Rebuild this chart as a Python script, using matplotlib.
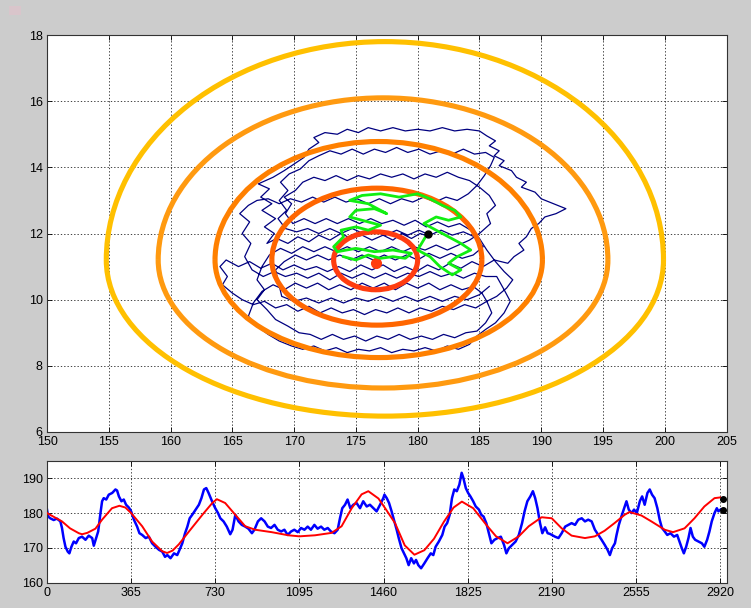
import matplotlib
matplotlib.use("Agg")
import matplotlib.pyplot as plt
from matplotlib.patches import Arc, Rectangle
import numpy as np

plt.rcParams['font.family'] = ['Liberation Sans', 'DejaVu Sans']

# ---------------- top panel data ----------------
x_ticks_top = [150, 155, 160, 165, 170, 175, 180, 185, 190, 195, 200, 205]
y_ticks_top = [6, 8, 10, 12, 14, 16, 18]

# contour rings (inner -> outer): centre x, y at widest point, width, upper and lower half-heights
ring_cx = [176.6, 176.7, 176.85, 177.2, 177.35]
ring_cy = [11.2, 11.2, 11.2, 11.2, 11.2]
ring_w = [6.8, 17.0, 26.5, 36.4, 45.1]
ring_up = [0.85, 2.17, 3.58, 4.9, 6.6]
ring_dn = [0.9, 1.97, 2.95, 3.87, 4.72]
ring_colors = ['#ff3c10', '#ff6600', '#ff8000', '#ff9a10', '#ffc000']

traj_x = [181.0,180.2,179.5,178.7,178.0,177.2,176.3,175.5,174.6,173.8,172.9,172.0,171.2,170.3,169.5,168.6,167.8,
          168.4,167.6,168.5,167.4,168.2,167.3,168.0,167.1,168.3,169.2,170.0,170.8,171.2,172.0,171.6,172.5,
          173.5,174.3,175.2,176.0,177.0,178.0,179.0,180.0,181.0,182.0,183.0,184.0,185.0,185.6,
          186.3,185.8,186.6,186.2,187.0,186.6,187.6,188.0,188.8,188.4,189.5,190.0,191.0,192.0,191.2,190.3,189.8,189.2,188.8,188.2,188.6,187.8,187.3,
          186.2,185.3,184.4,183.5,182.6,181.7,180.8,179.9,179.0,178.1,177.2,176.3,175.4,174.5,173.6,172.7,171.8,170.9,170.0,169.1,168.2,167.3,166.4,165.5,164.5,164.0,
          164.6,164.2,165.0,165.8,166.7,167.6,168.5,169.4,170.3,171.2,172.1,173.0,173.9,174.8,175.7,176.6,177.5,178.4,179.3,180.2,181.1,182.0,182.9,183.8,184.7,185.6,186.4,187.2,187.7,187.0,186.3,185.6,
          185.0,184.3,183.4,182.5,181.6,180.7,179.8,178.9,178.0,177.1,176.2,175.3,174.4,173.5,172.6,171.7,170.8,169.9,169.3,169.8,169.2,170.1,170.7,
          171.6,172.5,173.4,174.3,175.2,176.1,177.0,177.9,178.8,179.7,180.6,181.5,182.4,183.3,184.2,185.0,185.8,186.3,185.6,185.9,185.0,184.2,
          183.3,182.4,181.5,180.6,179.7,178.8,177.9,177.0,176.1,175.2,174.3,173.4,172.5,171.6,170.7,169.8,168.9,168.0,167.4,167.0,167.6,167.0,167.8,168.5,169.5,170.4,
          171.3,172.2,173.1,174.0,174.9,175.8,176.7,177.6,178.5,179.4,180.3,181.2,182.1,183.0,183.9,184.8,185.5,186.0,185.6,185.2,184.5,
          183.6,182.7,181.8,180.9,180.0,179.1,178.2,177.3,176.4,175.5,174.6,173.7,172.8,171.9,171.0,170.1,169.2,168.3,167.4,166.7,166.3,167.0,167.9,168.8,169.8,
          170.7,171.6,172.5,173.4,174.3,175.2,176.1,177.0,177.9,178.8,179.7,180.6,181.5,182.4,183.3,184.2,184.8,185.5,186.3,187.0,187.5,187.0,186.4,
          185.5,184.6,183.7,182.8,181.9,181.0,180.1,179.2,178.3,177.4,176.5,175.6,174.7,173.8,172.9,172.0,171.1,170.2,169.3,168.4,167.5,166.6,166.0,166.5,165.8,166.4,165.6,166.3,167.0,
          167.9,168.8,169.7,170.6,171.5,172.4,173.3,174.2,175.1,176.0,176.9,177.8,178.7,179.6,180.5,181.4,182.3,183.2,184.1,184.8,185.4,185.9,186.2,185.5,
          184.6,183.7,182.8,181.9,181.0,180.1,179.2,178.3,177.4,176.5,175.6,174.7,173.8,172.9,172.0,171.2,170.5,169.6,168.9,169.5,168.8,169.4,168.7,169.3,
          170.2,171.1,172.0,172.9,173.8,174.7,175.6,176.5,177.4,178.3,179.2,180.1,181.0,181.9,182.8,183.7,184.6,185.3,184.5,183.6,182.7,181.8,180.9,180.0,179.1,178.2,177.3,176.4,175.5,174.6,173.7,172.8,171.9,171.0,170.1,169.2,168.5,
          169.0,170.0,171.0,172.0,173.0,174.0,175.0,176.0,177.0,178.0,179.0,180.0,181.0,182.0,183.0,184.0,185.0,185.8]
traj_y = [11.9,12.0,11.85,12.0,11.8,11.95,11.8,11.95,11.85,12.0,11.8,11.95,11.75,11.9,11.7,11.85,11.7,
          12.0,12.2,12.45,12.7,12.9,13.1,13.35,13.5,13.7,13.9,14.1,14.3,14.55,14.75,14.9,15.05,
          15.0,15.15,15.05,15.2,15.1,15.2,15.1,15.15,15.1,15.2,15.1,15.15,15.1,14.95,
          14.8,14.65,14.5,14.35,14.2,14.05,13.9,13.7,13.55,13.4,13.25,13.05,12.9,12.75,12.6,12.5,12.3,12.15,11.9,11.7,11.5,11.3,11.1,
          11.2,11.0,11.15,10.95,11.1,10.9,11.05,10.85,11.0,10.85,11.05,10.9,11.05,10.85,11.0,10.85,11.0,10.9,11.05,10.9,11.1,10.95,11.15,11.0,11.2,11.0,
          10.7,10.45,10.2,10.0,9.85,9.95,9.75,9.85,9.65,9.8,9.6,9.75,9.6,9.7,9.55,9.7,9.6,9.75,9.6,9.75,9.65,9.8,9.7,9.85,9.75,9.95,10.1,10.35,10.6,10.85,11.15,11.5,
          11.85,12.1,12.3,12.2,12.35,12.2,12.4,12.25,12.4,12.3,12.45,12.3,12.45,12.3,12.45,12.3,12.45,12.3,12.6,12.9,13.1,13.3,13.55,
          13.7,13.6,13.75,13.6,13.75,13.65,13.8,13.7,13.8,13.65,13.8,13.7,13.85,13.7,13.6,13.4,13.15,12.85,12.6,12.3,12.0,11.8,
          11.65,11.5,11.65,11.5,11.6,11.45,11.6,11.45,11.6,11.45,11.6,11.45,11.6,11.45,11.6,11.4,11.55,11.35,11.0,10.6,10.3,10.0,9.7,9.4,9.2,9.0,
          8.95,8.8,8.95,8.8,8.9,8.75,8.9,8.8,8.95,8.8,8.9,8.8,8.95,8.85,9.0,9.05,9.3,9.6,9.95,10.2,10.4,
          10.3,10.45,10.3,10.5,10.35,10.5,10.3,10.5,10.35,10.5,10.3,10.45,10.3,10.5,10.35,10.5,10.3,10.45,10.25,9.9,9.5,9.2,8.95,8.75,8.6,
          8.5,8.6,8.45,8.55,8.4,8.5,8.45,8.55,8.4,8.5,8.45,8.55,8.45,8.6,8.5,8.65,8.9,9.1,9.3,9.6,9.95,10.3,10.7,
          10.7,10.8,10.65,10.8,10.7,10.85,10.7,10.8,10.65,10.8,10.65,10.8,10.65,10.8,10.6,10.8,10.65,10.8,10.7,10.85,10.7,10.9,11.3,11.7,12.0,12.35,12.6,12.85,13.0,
          13.05,12.9,13.05,12.95,13.1,12.95,13.1,12.95,13.05,12.9,13.05,12.9,13.05,12.95,13.1,12.95,13.1,13.0,13.2,13.45,13.75,14.05,14.3,14.45,
          14.4,14.55,14.4,14.5,14.4,14.55,14.45,14.6,14.45,14.55,14.4,14.55,14.4,14.5,14.35,14.2,13.95,13.8,13.55,13.3,13.0,12.7,12.45,12.15,
          12.05,12.15,12.0,12.15,12.0,12.15,12.0,12.1,11.95,12.1,11.95,12.1,11.95,12.1,11.95,12.05,11.9,11.6,11.35,11.25,11.4,11.25,11.4,11.2,11.35,11.2,11.35,11.2,11.35,11.2,11.35,11.2,11.35,11.2,11.35,11.15,10.9,
          10.1,9.95,10.05,9.9,10.05,9.9,10.05,9.95,10.1,9.95,10.1,9.95,10.1,9.95,10.1,10.0,10.15,10.4]

green_x = [174.0,175.0,176.0,177.0,178.0,179.0,179.5,178.0,176.5,175.0,173.5,173.2,174.0,173.8,175.0,176.0,177.0,
           175.5,174.5,175.0,176.5,177.5,176.0,174.5,175.5,177.0,178.5,180.0,181.0,182.0,183.0,183.5,182.5,181.5,
           180.5,181.5,182.5,183.5,184.3,183.2,182.5,183.5,182.8,181.8,181.0,180.0,180.8]
green_y = [11.3,11.2,11.35,11.25,11.3,11.25,11.4,11.5,11.45,11.55,11.45,11.6,11.9,12.1,12.2,12.1,12.25,
           12.4,12.5,12.7,12.75,12.6,12.9,13.0,13.15,13.2,13.1,13.2,13.05,12.85,12.7,12.5,12.4,12.5,
           12.3,12.1,11.9,11.7,11.5,11.3,11.1,10.9,10.75,11.0,11.3,11.5,12.0]

centre_pt = (176.6, 11.1)
last_pt = (180.8, 12.0)

# ---------------- bottom panel data ----------------
x_ticks_bot = [0, 365, 730, 1095, 1460, 1825, 2190, 2555, 2920]
y_ticks_bot = [160, 170, 180, 190]

obs_day = [0,5,14,29,43,58,65,72,80,90,97,106,116,126,138,152,167,181,196,203,213,222,232,239,246,257,268,283,297,304,
           312,323,333,343,355,365,377,391,401,413,428,442,456,471,486,500,512,522,536,551,565,575,587,599,609,619,630,645,659,670,
           681,691,701,716,730,742,752,766,780,795,805,817,831,845,860,874,889,900,915,929,944,958,972,987,1001,1016,1030,1044,1059,1073,
           1088,1102,1117,1131,1145,1160,1174,1189,1203,1218,1232,1247,1261,1271,1281,1293,1304,1316,1329,1343,1358,1372,1387,1401,1416,1430,1445,1459,1464,1474,
           1484,1495,1507,1517,1526,1538,1549,1559,1569,1580,1592,1601,1611,1623,1637,1651,1665,1676,1686,1700,1715,1725,1736,1747,1757,1767,1778,1789,1799,1806,
           1817,1827,1837,1849,1860,1874,1884,1894,1906,1917,1928,1941,1955,1969,1983,1993,2004,2018,2033,2047,2061,2072,2084,2097,2108,2118,2128,2139,2149,2161,
           2172,2182,2190,2204,2219,2233,2248,2262,2276,2291,2305,2320,2334,2348,2363,2377,2392,2406,2420,2432,2442,2452,2464,2471,2481,2492,2504,2514,2524,2536,
           2547,2559,2572,2582,2593,2605,2615,2625,2636,2648,2658,2668,2680,2691,2705,2720,2734,2744,2754,2763,2773,2783,2792,2802,2812,2826,2841,2852,2864,2874,
           2884,2896,2906,2913,2922]
obs_val = [181.0,179.0,178.5,178.0,178.4,177.6,175.7,172.8,170.3,168.9,168.4,170.3,171.8,171.3,172.8,173.2,172.3,173.5,172.8,170.6,172.8,174.7,180.0,183.4,184.3,183.9,185.3,185.8,186.8,186.5,
           184.8,183.4,183.9,182.4,181.6,180.5,178.1,176.1,174.2,173.7,172.8,173.2,171.3,170.3,169.4,168.9,167.4,167.9,167.0,168.4,167.9,169.4,171.3,174.2,176.1,178.5,179.5,181.0,182.4,184.3,
           186.8,187.2,185.8,183.4,181.4,180.0,178.5,177.6,176.1,173.9,175.2,179.5,177.6,176.6,176.1,175.5,174.2,175.2,177.6,178.5,177.6,176.1,175.7,176.6,175.2,174.7,175.2,173.7,174.7,175.2,
           174.5,175.7,175.2,176.1,175.2,176.6,175.5,176.1,175.2,175.7,174.7,174.2,175.2,178.5,181.4,182.4,183.9,181.4,182.4,182.9,181.4,183.4,181.9,182.4,181.4,180.5,182.4,184.3,185.3,184.3,
           182.9,180.5,177.6,175.2,172.8,169.9,168.4,167.0,165.0,167.0,165.5,166.5,165.0,164.1,165.5,167.0,168.4,167.9,170.3,171.8,173.7,176.1,177.1,179.5,184.3,186.8,186.3,188.2,191.6,190.2,
           187.2,185.8,184.8,183.4,181.9,181.0,179.5,179.0,177.1,174.2,171.3,172.3,172.8,173.2,170.8,168.4,169.9,170.8,171.8,173.7,177.1,180.5,183.4,184.8,186.3,184.3,181.4,177.1,174.2,175.9,
           174.2,174.0,173.7,173.2,172.8,174.2,176.1,176.6,177.1,176.6,178.1,178.5,177.6,178.1,177.6,175.2,173.7,172.3,170.8,169.4,167.9,169.9,171.3,173.7,176.6,179.0,181.4,183.4,181.0,180.0,
           181.0,180.0,183.4,184.8,182.4,185.8,186.8,185.3,184.3,181.4,178.1,175.7,174.7,173.7,174.2,173.2,173.7,171.8,169.9,168.4,170.3,172.8,175.7,173.2,172.3,171.8,171.3,170.3,172.3,174.7,
           177.6,180.0,181.4,180.5,181.0]

model_day = [0,65,100,138,152,175,210,239,282,314,340,365,413,456,500,521,545,572,616,674,717,737,773,817,860,903,975,1047,1095,1163,
             1235,1278,1322,1365,1394,1438,1467,1510,1552,1594,1637,1679,1722,1764,1800,1849,1906,1948,1998,2047,2090,2146,2190,2233,2276,2334,2377,2419,2462,2506,
             2527,2579,2622,2680,2716,2766,2809,2852,2896,2920]
model_val = [180.0,177.6,175.6,174.2,173.9,174.3,175.5,178.1,181.4,182.1,181.6,180.0,176.2,171.8,169.0,168.5,169.2,171.0,174.7,179.5,182.9,184.0,182.9,179.5,176.2,175.2,174.5,173.6,173.3,173.6,
             174.3,176.2,181.4,185.4,186.3,184.2,181.4,177.1,170.7,168.0,169.3,172.6,177.5,181.6,183.3,181.4,176.6,173.3,171.3,173.3,176.2,178.8,178.5,175.6,173.5,172.8,173.3,174.9,177.1,179.5,
             180.3,179.3,177.6,175.2,174.5,175.6,178.5,181.9,184.3,184.5]

end_day = [2934, 2934]
end_val = [184.1, 181.0]

# ---------------- figure ----------------
W, H = 751, 608
fig = plt.figure(figsize=(W / 100, H / 100), dpi=100, facecolor='#cccccc')
fig.add_artist(Rectangle((9 / W, 1 - 15 / H), 12 / W, 9 / H, transform=fig.transFigure,
                         facecolor='#d9c5cb', edgecolor='none'))

def px_axes(l, t, r, b):
    return fig.add_axes([l / W, 1 - b / H, (r - l) / W, (b - t) / H])

grid_kw = dict(color='#222222', linestyle=(0, (1.6, 2.4)), linewidth=0.6)

def style(ax):
    ax.set_facecolor('white')
    ax.tick_params(direction='in', length=3.5, width=0.6, labelsize=9, top=True, right=True,
                   pad=3, colors='black')
    for s in ax.spines.values():
        s.set_linewidth(0.8)
        s.set_color('#333333')
    ax.grid(True, **grid_kw)
    ax.set_axisbelow(True)

ax1 = px_axes(47, 35, 726.5, 432)
style(ax1)
ax1.set_xlim(150, 205)
ax1.set_ylim(6, 18)
ax1.set_xticks(x_ticks_top)
ax1.set_yticks(y_ticks_top)

ax1.plot(traj_x, traj_y, color='#000080', linewidth=0.9, zorder=2)
for cx, cy, w, up, dn, c in zip(ring_cx, ring_cy, ring_w, ring_up, ring_dn, ring_colors):
    ax1.add_patch(Arc((cx, cy), w, 2 * up, theta1=0, theta2=180, color=c, linewidth=3.7, zorder=3))
    ax1.add_patch(Arc((cx, cy), w, 2 * dn, theta1=180, theta2=360, color=c, linewidth=3.7, zorder=3))
ax1.plot([centre_pt[0]], [centre_pt[1]], 'o', color='#ff3c10', markersize=7, zorder=4)
ax1.plot(green_x, green_y, color='#11ee11', linewidth=2.0, zorder=5)
ax1.plot([last_pt[0]], [last_pt[1]], 'o', color='black', markersize=5, zorder=6)

ax2 = px_axes(47, 461, 726.5, 582.5)
style(ax2)
ax2.set_xlim(0, 2948)
ax2.set_ylim(160, 195)
ax2.set_xticks(x_ticks_bot)
ax2.set_yticks(y_ticks_bot)
ax2.plot(obs_day, obs_val, color='#0000ff', linewidth=1.8, zorder=2)
ax2.plot(model_day, model_val, color='#ff0000', linewidth=1.4, zorder=3)
ax2.plot(end_day, end_val, 'o', color='black', markersize=4, zorder=4, clip_on=False)

fig.savefig('out.png', dpi=100, facecolor=fig.get_facecolor())
